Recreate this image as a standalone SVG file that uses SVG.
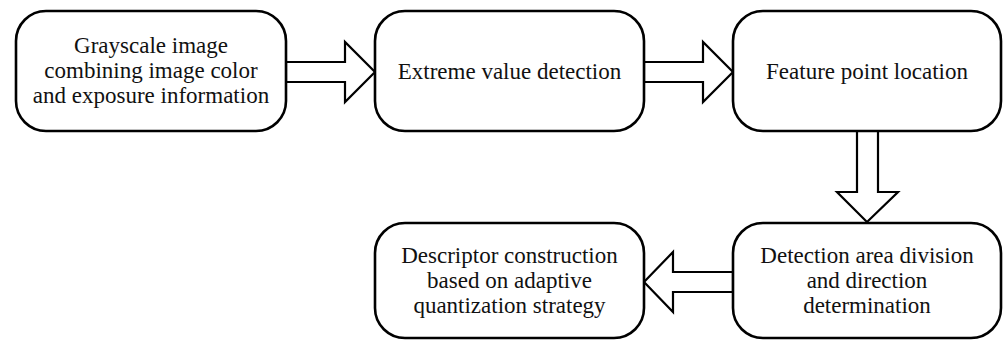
<svg xmlns="http://www.w3.org/2000/svg" width="1003" height="340" viewBox="0 0 1003 340">
  <style>
    .box { fill: #ffffff; stroke: #000000; stroke-width: 2.6; }
    .arrow { fill: #ffffff; stroke: #000000; stroke-width: 2.2; stroke-linejoin: miter; }
    .label { font-family: "Liberation Serif", "DejaVu Serif", serif; font-size: 23px; fill: #111111; text-anchor: middle; }
  </style>
  <rect width="1003" height="340" fill="#ffffff"/>

  <!-- block arrows between stages -->
  <g id="connectors">
    <polygon class="arrow" points="286,62 345,62 345,42 375,72 345,102 345,82 286,82"/>
    <polygon class="arrow" points="644,62 703,62 703,42 733,72 703,102 703,82 644,82"/>
    <polygon class="arrow" points="857,131 878,131 878,192 898,192 867,222 837,192 857,192"/>
    <polygon class="arrow" points="733,272 673,272 673,252 644,282 673,312 673,292 733,292"/>
  </g>

  <g id="node-grayscale">
    <rect class="box" x="16" y="11" width="270" height="120" rx="30" ry="30"/>
    <text class="label" x="151" y="53">Grayscale image</text>
    <text class="label" x="151" y="78">combining image color</text>
    <text class="label" x="151" y="103">and exposure information</text>
  </g>

  <g id="node-extreme">
    <rect class="box" x="375" y="11" width="269" height="120" rx="30" ry="30"/>
    <text class="label" x="509.5" y="79">Extreme value detection</text>
  </g>

  <g id="node-feature">
    <rect class="box" x="733" y="11" width="268" height="120" rx="30" ry="30"/>
    <text class="label" x="867" y="79">Feature point location</text>
  </g>

  <g id="node-division">
    <rect class="box" x="733" y="223" width="268" height="115" rx="30" ry="30"/>
    <text class="label" x="867" y="263">Detection area division</text>
    <text class="label" x="867" y="288">and direction</text>
    <text class="label" x="867" y="313">determination</text>
  </g>

  <g id="node-descriptor">
    <rect class="box" x="375" y="223" width="269" height="115" rx="30" ry="30"/>
    <text class="label" x="509.5" y="263">Descriptor construction</text>
    <text class="label" x="509.5" y="288">based on adaptive</text>
    <text class="label" x="509.5" y="313">quantization strategy</text>
  </g>
</svg>
